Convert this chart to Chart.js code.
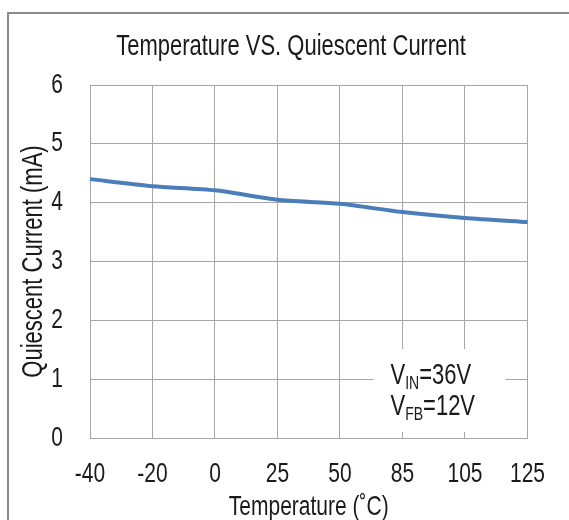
<!DOCTYPE html>
<html>
<head>
<meta charset="utf-8">
<script src="https://cdn.jsdelivr.net/npm/chart.js@4/dist/chart.umd.min.js"></script>
<style>
  html, body { margin:0; padding:0; background:#fff; }
  #chart { display:block; }
</style>
</head>
<body>
<canvas id="chart" width="569" height="520"></canvas>
<script>
const temps = ["-40","-20","0","25","50","85","105","125"];
const current = [4.40, 4.28, 4.21, 4.05, 3.98, 3.84, 3.74, 3.67];
const yTicks = [0,1,2,3,4,5,6];
const chartTitle = "Temperature VS. Quiescent Current";
const noteLines = [["V","IN","=36V"],["V","FB","=12V"]];

const FONT = "'Liberation Sans', Arial, sans-serif";
const TEXT = "#1a1a1a";
const GRID = "#a6a6a6";
const STRETCH = 1.3; // reference text is drawn taller than normal

const canvas = document.getElementById("chart");
const ctx = canvas.getContext("2d");

// make every text glyph taller, around its anchor point
const plainFill = ctx.fillText;
ctx.fillText = function(t, x, y, w) {
  this.save();
  this.translate(x, y);
  this.scale(1, STRETCH);
  if (w === undefined) plainFill.call(this, t, 0, 0);
  else plainFill.call(this, t, 0, 0, w);
  this.restore();
};

// outer frame of the figure, only left and top edges visible
const frame = {
  id: "frame",
  beforeDraw(chart) {
    const c = chart.ctx;
    c.save();
    c.strokeStyle = "#8a8a8a";
    c.lineWidth = 2;
    c.beginPath();
    c.moveTo(8, chart.height);
    c.lineTo(8, 13);
    c.lineTo(chart.width, 13);
    c.stroke();
    c.restore();
  },
  afterDraw(chart) {
    const c = chart.ctx;
    c.save();
    c.fillStyle = TEXT;
    c.font = "22px " + FONT;
    c.textAlign = "center";
    c.textBaseline = "middle";
    c.fillText(chartTitle, 291, 47);
    c.restore();
  }
};

// V_IN / V_FB note with subscripts, white box over the grid
const note = {
  id: "note",
  beforeDatasetsDraw(chart) {
    const c = chart.ctx;
    const a = chart.chartArea;
    const x0 = a.right - 154, y0 = a.bottom - 89;
    c.save();
    c.fillStyle = "#fff";
    c.fillRect(x0, y0, 132, 83);
    c.fillStyle = TEXT;
    c.textBaseline = "alphabetic";
    noteLines.forEach((l, i) => {
      let x = x0 + 17;
      const y = y0 + 35 + i*31;
      c.font = "22px " + FONT;
      c.fillText(l[0], x, y);
      x += c.measureText(l[0]).width;
      c.font = "14px " + FONT;
      c.fillText(l[1], x, y + 5);
      x += c.measureText(l[1]).width;
      c.font = "22px " + FONT;
      c.fillText(l[2], x, y);
    });
    c.restore();
  }
};

new Chart(canvas, {
  type: "line",
  data: {
    labels: temps,
    datasets: [{
      data: current,
      borderColor: "#4a7ebb",
      borderWidth: 4,
      pointRadius: 0,
      tension: 0.25,
      fill: false
    }]
  },
  options: {
    responsive: false,
    animation: false,
    layout: { padding: { left: 0, right: 38, top: 85, bottom: 0 } },
    plugins: {
      legend: { display: false },
      tooltip: { enabled: false },
      title: { display: false }
    },
    scales: {
      x: {
        type: "category",
        offset: false,
        grid: { color: GRID, lineWidth: 1, drawTicks: false },
        border: { color: GRID },
        ticks: { color: TEXT, font: { family: FONT, size: 21 }, padding: 24, maxRotation: 0, autoSkip: false },
        title: {
          display: true,
          text: "Temperature (˚C)",
          color: TEXT,
          font: { family: FONT, size: 21 },
          padding: { top: 6, bottom: 0 }
        },
        afterFit(s) { s.height = 82; }
      },
      y: {
        min: 0,
        max: 6,
        afterBuildTicks(s) { s.ticks = yTicks.map(v => ({ value: v })); },
        grid: { color: GRID, lineWidth: 1, drawTicks: false },
        border: { color: GRID },
        ticks: { color: TEXT, font: { family: FONT, size: 21 }, padding: 27 },
        title: {
          display: true,
          text: "Quiescent Current (mA)",
          color: TEXT,
          font: { family: FONT, size: 22 },
          padding: { top: 21, bottom: 0 }
        },
        afterFit(s) { s.width = 90; }
      }
    }
  },
  plugins: [frame, note]
});
</script>
</body>
</html>
